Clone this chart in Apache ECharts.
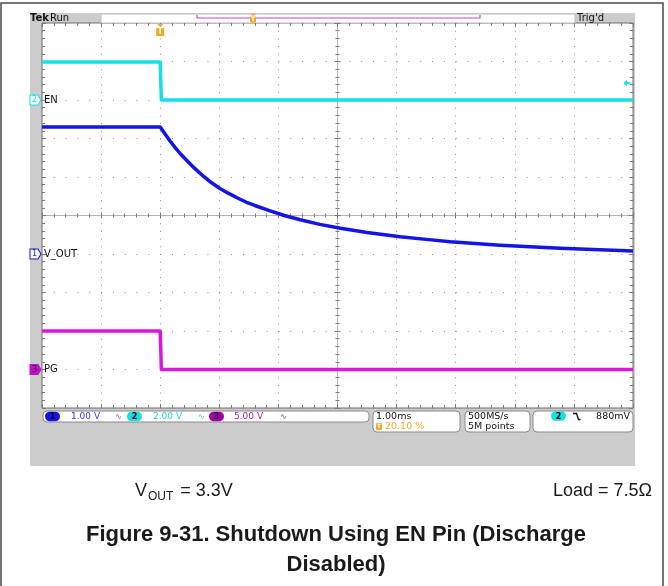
<!DOCTYPE html>
<html>
<head>
<meta charset="utf-8">
<script src="https://cdn.jsdelivr.net/npm/echarts@6.0.0/dist/echarts.min.js"></script>
<style>
  html, body { margin: 0; padding: 0; background: #fff; }
  #c { width: 668px; height: 586px; }
</style>
</head>
<body>
<div id="c"></div>
<script>
// ---- Acquisition data (time in ms, trigger at t = 0, 1 ms/div) ----
const timeRange = [-2, 8];

// Channel 2: EN (V)
const enTime  = [-2, 0, 0.02, 8];
const enVolts = [1.97, 1.97, 0, 0];

// Channel 1: V_OUT (V)
const voutTime  = [-2, 0, 0.05, 0.1, 0.17, 0.25, 0.35, 0.45, 0.58, 0.73, 0.87, 1.01, 1.15, 1.3, 1.45,
                   1.6, 1.86, 2.1, 2.37, 2.7, 3.05, 3.5, 4.06, 4.5, 4.91, 5.75, 6.77, 8];
const voutVolts = [3.3, 3.3, 3.19, 3.08, 2.93, 2.77, 2.59, 2.43, 2.23, 2.02, 1.85, 1.70, 1.58, 1.46, 1.35,
                   1.26, 1.12, 1.00, 0.89, 0.77, 0.67, 0.56, 0.45, 0.38, 0.32, 0.23, 0.15, 0.08];

// Channel 3: PG (V)
const pgTime  = [-2, 0, 0.02, 8];
const pgVolts = [5, 5, 0, 0];

// Trigger level on channel 2 (V)
const triggerLevel = 0.88;

// Vertical settings: volts per division, ground marker in divisions above centre
const chNames  = ['V_OUT', 'EN', 'PG'];
const chScale  = [1, 2, 5];
const chGround = [-1, 3, -4];

// ---- Screen layout ----
const G = { left: 42, top: 23, width: 591, height: 385 };
const HDIV = 10, VDIV = 10;
const colors = { ch1: '#1414e6', ch2: '#14e0e6', ch3: '#e014e0', orange: '#f5a623' };
const tickColor = '#7a7a7a';
const dotColor = '#8c8c8c';
const monoFont = '"DejaVu Sans"';

function pairs(t, v) { return t.map((x, i) => [x, v[i]]); }

function chRange(i) {
  return {
    min: (-VDIV / 2 - chGround[i]) * chScale[i],
    max: (VDIV / 2 - chGround[i]) * chScale[i]
  };
}

const dotsOnVertical = [1, G.height / (VDIV * 5) - 1];
const dotsOnHorizontal = [1, G.width / (HDIV * 5) - 1];

function frameX(position, split) {
  return {
    type: 'value', min: -HDIV / 2, max: HDIV / 2, interval: 1, position,
    axisLine: { show: false, onZero: false },
    axisTick: { show: true, inside: true, length: 4, lineStyle: { color: tickColor } },
    minorTick: { show: true, splitNumber: 5, length: 3, lineStyle: { color: tickColor } },
    axisLabel: { show: false },
    splitLine: { show: split, lineStyle: { color: dotColor, width: 1, type: dotsOnVertical } }
  };
}
function frameY(position, split) {
  return {
    type: 'value', min: -VDIV / 2, max: VDIV / 2, interval: 1, position,
    axisLine: { show: false, onZero: false },
    axisTick: { show: true, inside: true, length: 4, lineStyle: { color: tickColor } },
    minorTick: { show: true, splitNumber: 5, length: 3, lineStyle: { color: tickColor } },
    axisLabel: { show: false },
    splitLine: { show: split, lineStyle: { color: dotColor, width: 1, type: dotsOnHorizontal } }
  };
}
function centreX(inside) {
  return {
    type: 'value', min: -HDIV / 2, max: HDIV / 2, interval: 1, position: 'bottom',
    axisLine: { show: true, onZero: true, onZeroAxisIndex: 0, lineStyle: { color: '#b4b4b4', width: 1 } },
    axisTick: { show: true, inside, length: 3, lineStyle: { color: tickColor } },
    minorTick: { show: true, splitNumber: 5, length: 2, lineStyle: { color: tickColor } },
    axisLabel: { show: false }, splitLine: { show: false }
  };
}
function centreY(inside) {
  return {
    type: 'value', min: -VDIV / 2, max: VDIV / 2, interval: 1, position: 'left',
    axisLine: { show: true, onZero: true, onZeroAxisIndex: 0, lineStyle: { color: '#b4b4b4', width: 1 } },
    axisTick: { show: true, inside, length: 3, lineStyle: { color: tickColor } },
    minorTick: { show: true, splitNumber: 5, length: 2, lineStyle: { color: tickColor } },
    axisLabel: { show: false }, splitLine: { show: false }
  };
}
function channelY(i) {
  const r = chRange(i);
  return { type: 'value', min: r.min, max: r.max, show: false, axisLine: { onZero: false } };
}

// Ground marker (channel number tag) and name at the left edge
function groundMarks(i, color, filled) {
  return {
    silent: true,
    animation: false,
    data: [
      {
        coord: [timeRange[0], 0],
        symbol: 'path://M0,0 L8,0 L11,5 L8,10 L0,10 Z',
        symbolSize: [11, 10],
        symbolOffset: [-6.5, 0],
        itemStyle: { color: filled ? color : '#ffffff', borderColor: color, borderWidth: 1 },
        label: { show: true, position: 'inside', formatter: String(i + 1), fontSize: 8,
                 fontFamily: monoFont, color: filled ? '#300030' : color, offset: [-1, 0] }
      },
      {
        coord: [timeRange[0], 0],
        symbol: 'rect', symbolSize: [1, 1],
        itemStyle: { color: 'rgba(0,0,0,0)' },
        label: { show: true, position: 'right', distance: 1.5, formatter: chNames[i],
                 fontSize: 10, fontFamily: monoFont, color: '#111' }
      }
    ]
  };
}

const enMarks = groundMarks(1, colors.ch2, false);
// Trigger position marker at the top edge
enMarks.data.push({
  coord: [0, chRange(1).max],
  symbol: 'path://M1,0 L7,0 L4,3 Z M0,4 L8,4 L8,12 L0,12 Z',
  symbolSize: [8, 12],
  symbolOffset: [0, 7],
  itemStyle: { color: colors.orange },
  label: { show: true, position: 'inside', formatter: 'T', fontSize: 8, fontWeight: 'bold',
           color: '#ffffff', offset: [0, 2], fontFamily: monoFont }
});
// Trigger level arrow at the right edge
enMarks.data.push({
  coord: [timeRange[1], triggerLevel],
  symbol: 'path://M0,4 L4,0 L4,3 L8,3 L8,5 L4,5 L4,8 Z',
  symbolSize: [7, 7],
  symbolOffset: [-6, 0],
  itemStyle: { color: colors.ch2 },
  label: { show: false }
});

function traceSeries(name, t, v, yIdx, color, marks) {
  return {
    name, type: 'line', xAxisIndex: 4, yAxisIndex: yIdx,
    data: pairs(t, v), showSymbol: false, symbol: 'none', clip: true,
    lineStyle: { color, width: 3.5, join: 'round' }, itemStyle: { color },
    animation: false, z: 5, markPoint: marks
  };
}

// ---- Decorations around the graticule ----
function txt(x, y, text, fill, font, align, valign, extra) {
  return Object.assign({ type: 'text', x, y, silent: true,
    style: { text, fill, font, textAlign: align || 'left', textVerticalAlign: valign || 'middle' } }, extra || {});
}
function box(x, y, w, h) {
  return { type: 'rect', silent: true, shape: { x, y, width: w, height: h, r: 4 },
           style: { fill: '#ffffff', stroke: '#8a8a8a', lineWidth: 1 } };
}
function pill(cx, cy, fill, label, textColor) {
  return [
    { type: 'rect', silent: true, shape: { x: cx - 7.5, y: cy - 4.8, width: 15, height: 9.6, r: 4.8 }, style: { fill } },
    txt(cx, cy + 0.5, label, textColor, 'bold 8px ' + monoFont, 'center', 'middle')
  ];
}

const graphics = [
  // Outer figure frame
  { type: 'rect', silent: true, z: -20, shape: { x: 1, y: 3, width: 662, height: 640 },
    style: { fill: '#ffffff', stroke: '#4a4a4a', lineWidth: 1.5 } },
  // Instrument screen bezel
  { type: 'rect', silent: true, z: -10, shape: { x: 30, y: 13, width: 605, height: 453 },
    style: { fill: '#cccccc' } },
  // Record bar at top
  { type: 'rect', silent: true, shape: { x: 101, y: 14, width: 474, height: 9 },
    style: { fill: '#ffffff', stroke: '#c0c0c0', lineWidth: 1 } },
  { type: 'polyline', silent: true, shape: { points: [[197, 15], [197, 18], [480, 18], [480, 15]] },
    style: { stroke: '#cc44cc', lineWidth: 1.2, fill: null } },
  { type: 'polygon', silent: true, shape: { points: [[250, 14], [256, 14], [253, 16]] },
    style: { fill: colors.orange } },
  { type: 'rect', silent: true, shape: { x: 250, y: 16.5, width: 6, height: 6 },
    style: { fill: colors.orange } },
  txt(253, 19.8, 'T', '#ffffff', 'bold 6px ' + monoFont, 'center', 'middle'),
  txt(30, 18.5, 'Tek', '#111', 'bold 10px ' + monoFont, 'left', 'middle'),
  txt(50, 18.5, 'Run', '#111', '10px ' + monoFont, 'left', 'middle'),
  txt(577, 18.5, "Trig'd", '#111', '10px ' + monoFont, 'left', 'middle'),

  // Status readouts below the graticule
  box(43, 411, 326, 11),
  ...pill(52.5, 416.5, colors.ch1, '1', '#000'),
  txt(71, 416.8, '1.00 V', '#3a3ae0', '9px ' + monoFont),
  txt(115, 417, '\u223F', '#5a5ae0', '8px ' + monoFont),
  ...pill(134.5, 416.5, colors.ch2, '2', '#000'),
  txt(153, 416.8, '2.00 V', '#22d4dc', '9px ' + monoFont),
  txt(198, 417, '\u223F', '#22d4dc', '8px ' + monoFont),
  ...pill(216.5, 416.5, '#a000a8', '3', '#300030'),
  txt(234, 416.8, '5.00 V', '#a020a8', '9px ' + monoFont),
  txt(280, 417, '\u223F', '#a020a8', '8px ' + monoFont),

  box(373, 411, 87, 21),
  txt(376, 416.5, '1.00ms', '#111', '9.5px ' + monoFont),
  { type: 'rect', silent: true, shape: { x: 376, y: 423, width: 6, height: 7, r: 1 }, style: { fill: colors.orange } },
  txt(379, 426.8, 'T', '#ffffff', 'bold 6px ' + monoFont, 'center', 'middle'),
  txt(385, 426.8, '20.10 %', colors.orange, '9.5px ' + monoFont),

  box(465, 411, 65, 21),
  txt(468, 416.5, '500MS/s', '#111', '9.5px ' + monoFont),
  txt(468, 426.8, '5M points', '#111', '9.5px ' + monoFont),

  box(533, 411, 100, 21),
  ...pill(558.5, 416, colors.ch2, '2', '#000'),
  { type: 'polyline', silent: true, shape: { points: [[573, 413.5], [576.5, 413.5], [578.5, 419.5], [580.5, 419.5]] },
    style: { stroke: '#111', lineWidth: 1.3, fill: null } },
  txt(630, 416.5, '880mV', '#111', '9.5px ' + monoFont, 'right', 'middle'),

  // Captions
  { type: 'text', silent: true, x: 135, y: 491,
    style: {
      text: '{v|V}{s|OUT}{v| = 3.3V}',
      textVerticalAlign: 'middle',
      rich: {
        v: { fontSize: 18, fontFamily: '"Liberation Sans", Arial', fill: '#1a1a1a', lineHeight: 24, verticalAlign: 'middle' },
        s: { fontSize: 12, fontFamily: '"Liberation Sans", Arial', fill: '#1a1a1a', lineHeight: 24, verticalAlign: 'bottom', padding: [10, 2, 0, 1] }
      }
    } },
  txt(652, 491, 'Load = 7.5\u03A9', '#1a1a1a', '18px "Liberation Sans", Arial', 'right', 'middle'),
  txt(336, 535, 'Figure 9-31. Shutdown Using EN Pin (Discharge', '#1a1a1a', 'bold 22px "Liberation Sans", Arial', 'center', 'middle'),
  txt(336, 565, 'Disabled)', '#1a1a1a', 'bold 22px "Liberation Sans", Arial', 'center', 'middle')
];

const option = {
  animation: false,
  backgroundColor: 'transparent',
  grid: Object.assign({ show: true, backgroundColor: '#ffffff', borderColor: '#6e6e6e', borderWidth: 1,
                        outerBoundsMode: 'none', containLabel: false }, G),
  xAxis: [
    frameX('bottom', true),
    frameX('top', false),
    centreX(false),
    centreX(true),
    { type: 'value', min: timeRange[0], max: timeRange[1], show: false, axisLine: { onZero: false } }
  ],
  yAxis: [
    frameY('left', true),
    frameY('right', false),
    centreY(false),
    centreY(true),
    channelY(0),
    channelY(1),
    channelY(2)
  ],
  series: [
    traceSeries('EN', enTime, enVolts, 5, colors.ch2, enMarks),
    traceSeries('V_OUT', voutTime, voutVolts, 4, colors.ch1, groundMarks(0, colors.ch1, false)),
    traceSeries('PG', pgTime, pgVolts, 6, colors.ch3, groundMarks(2, '#c010c8', true))
  ],
  graphic: graphics
};

const chart = echarts.init(document.getElementById('c'), null, { renderer: 'canvas', width: 668, height: 586 });
chart.setOption(option);
</script>
</body>
</html>
